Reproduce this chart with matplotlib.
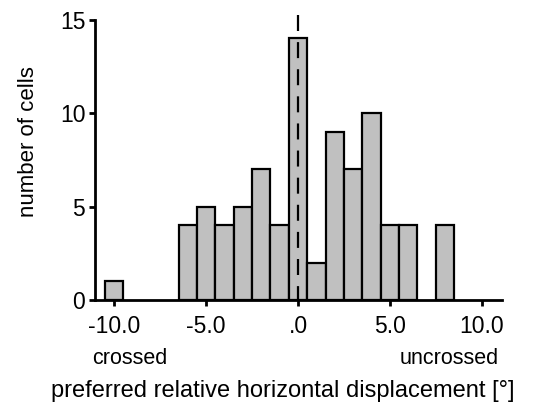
import matplotlib
matplotlib.use("Agg")
import matplotlib.pyplot as plt

bin_centers = [-10, -9, -8, -7, -6, -5, -4, -3, -2, -1, 0, 1, 2, 3, 4, 5, 6, 7, 8]
counts = [1, 0, 0, 0, 4, 5, 4, 5, 7, 4, 14, 2, 9, 7, 10, 4, 4, 0, 4]
xticks = [-10, -5, 0, 5, 10]
xtick_labels = ["-10.0", "-5.0", ".0", "5.0", "10.0"]
yticks = [0, 5, 10, 15]

plt.rcParams['font.family'] = ['Liberation Sans', 'DejaVu Sans']

fig = plt.figure(figsize=(5.55, 4.12), dpi=100)
ax = fig.add_axes([95/555, 1 - 300/412, (502-95)/555, (300-14)/412])

xs = [c for c, v in zip(bin_centers, counts) if v > 0]
vs = [v for v in counts if v > 0]
ax.bar(xs, vs, width=1.0, color='#c0c0c0', edgecolor='black', linewidth=1.6, zorder=2)
ax.plot([0, 0], [15.25, 0], color='black', linestyle=(0, (7.2, 5.0)), linewidth=1.6, zorder=3)

ax.set_xlim(-11.05, 11.1)
ax.set_ylim(0, 15.3)
ax.spines['top'].set_visible(False)
ax.spines['right'].set_visible(False)
ax.spines['left'].set_bounds(0, 15)
for s in ['left', 'bottom']:
    ax.spines[s].set_linewidth(2)
ax.set_xticks(xticks)
ax.set_xticklabels(xtick_labels)
ax.set_yticks(yticks)
ax.tick_params(axis='both', labelsize=16.5, width=2, length=4, direction='out', colors='black')
ax.tick_params(axis='x', pad=7)
ax.tick_params(axis='y', pad=3)

fig.text(29/555, 1 - 142/412, "number of cells", fontsize=16, ha='center', va='center',
         rotation=90)
fig.text(130/555, 1 - 358/412, "crossed", fontsize=15.5, ha='center', va='center')
fig.text(449/555, 1 - 358/412, "uncrossed", fontsize=15.5, ha='center', va='center')
fig.text(283/555, 1 - 391/412, "preferred relative horizontal displacement [°]", fontsize=17,
         ha='center', va='center')

fig.savefig("out.png", dpi=100)
